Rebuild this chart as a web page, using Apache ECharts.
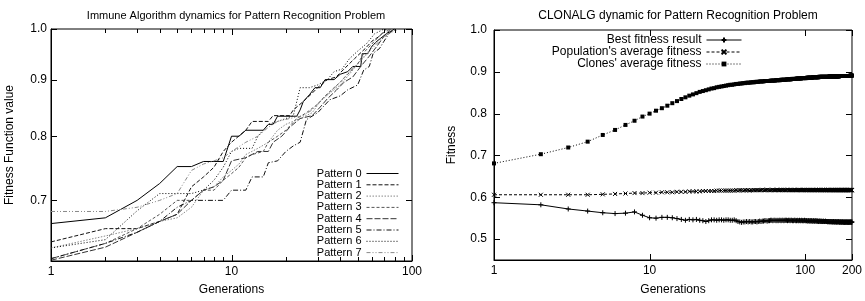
<!DOCTYPE html>
<html><head><meta charset="utf-8">
<script src="https://cdn.jsdelivr.net/npm/echarts@6/dist/echarts.min.js"></script>
<style>html,body{margin:0;padding:0;background:#fff}#c{width:865px;height:301px}</style>
</head><body><div id="c"></div>
<script>
// ---------- Left panel: Immune Algorithm, [generation, fitness] ----------
const patternNames = ['Pattern 0','Pattern 1','Pattern 2','Pattern 3','Pattern 4','Pattern 5','Pattern 6','Pattern 7'];
const pattern0 = [[1,0.667],[2,0.675],[3,0.70],[4,0.725],[5,0.751],[6,0.751],[7,0.759],[9,0.759],[10,0.80],[11,0.80],[12,0.81],[15,0.81],[16,0.82],[17,0.82],[18,0.834],[23,0.834],[24,0.845],[25,0.86],[27,0.872],[29,0.885],[31,0.885],[33,0.90],[37,0.90],[40,0.91],[44,0.915],[47,0.925],[52,0.925],[53,0.95],[57,0.95],[60,0.965],[64,0.975],[72,0.99],[80,1.0]];
const pattern1 = [[1,0.642],[2,0.66],[3,0.66],[4,0.67],[5,0.68],[6,0.72],[7,0.735],[8,0.75],[9,0.775],[10,0.79],[12,0.81],[13,0.825],[16,0.825],[17,0.835],[21,0.835],[22,0.845],[25,0.86],[28,0.875],[30,0.885],[34,0.90],[38,0.905],[42,0.92],[48,0.94],[55,0.96],[60,0.975],[66,0.985],[72,1.0]];
const pattern2 = [[1,0.634],[2,0.65],[3,0.66],[4,0.67],[5,0.675],[6,0.69],[7,0.715],[8,0.72],[9,0.735],[10,0.745],[11,0.755],[12,0.77],[14,0.78],[16,0.79],[18,0.81],[20,0.82],[24,0.83],[28,0.84],[31,0.86],[35,0.875],[40,0.89],[45,0.91],[50,0.93],[56,0.95],[62,0.97],[70,0.985],[78,1.0]];
const pattern3 = [[1,0.62],[2,0.64],[3,0.66],[4,0.68],[5,0.70],[6,0.70],[7,0.715],[8,0.715],[9,0.73],[10,0.74],[11,0.75],[12,0.765],[13,0.77],[15,0.775],[16,0.79],[18,0.80],[20,0.81],[23,0.83],[26,0.84],[30,0.855],[33,0.87],[37,0.885],[40,0.895],[44,0.91],[50,0.93],[55,0.955],[62,0.975],[68,0.99],[75,1.0]];
const pattern4 = [[1,0.618],[2,0.635],[3,0.655],[4,0.67],[5,0.68],[6,0.70],[7,0.715],[8,0.72],[9,0.73],[10,0.76],[12,0.765],[14,0.775],[16,0.775],[17,0.79],[19,0.80],[21,0.815],[24,0.83],[28,0.835],[31,0.85],[34,0.865],[38,0.88],[42,0.895],[47,0.905],[52,0.925],[58,0.945],[64,0.965],[70,0.985],[76,1.0]];
const pattern5 = [[1,0.62],[2,0.64],[3,0.655],[4,0.67],[5,0.69],[6,0.70],[7,0.70],[9,0.70],[10,0.715],[12,0.715],[13,0.735],[15,0.735],[16,0.757],[18,0.76],[20,0.775],[22,0.784],[24,0.79],[26,0.828],[30,0.84],[35,0.863],[40,0.87],[44,0.881],[50,0.89],[54,0.918],[58,0.925],[61,0.951],[66,0.96],[70,0.975],[75,0.992],[82,1.0]];
const pattern6 = [[1,0.634],[2,0.645],[3,0.685],[4,0.71],[5,0.71],[6,0.71],[7,0.715],[8,0.73],[9,0.75],[10,0.775],[11,0.78],[13,0.78],[14,0.80],[16,0.82],[18,0.825],[20,0.83],[22,0.835],[23,0.86],[24,0.885],[27,0.885],[30,0.89],[34,0.90],[37,0.915],[41,0.92],[45,0.94],[50,0.955],[56,0.97],[62,0.99],[70,1.0]];
const pattern7 = [[1,0.684],[2,0.684],[3,0.69],[4,0.70],[5,0.71],[6,0.745],[7,0.755],[8,0.76],[9,0.765],[10,0.775],[12,0.79],[14,0.80],[16,0.815],[18,0.825],[21,0.83],[25,0.835],[28,0.845],[32,0.865],[36,0.88],[40,0.895],[45,0.915],[50,0.93],[55,0.945],[60,0.96],[66,0.975],[74,0.99],[84,1.0]];
const leftXRange = [1, 100];
const leftYRange = [0.617, 1.0];
const leftXLabels = [1,10,100];
const leftXMinor = [2,3,4,5,6,7,8,9,20,30,40,50,60,70,80,90];
const leftYLabels = [0.7,0.8,0.9,1.0];

// ---------- Right panel: CLONALG, one value per generation 1..200 ----------
const rightNames = ['Best fitness result',"Population's average fitness","Clones' average fitness"];
const bestFitness = [
0.587,0.582,0.572,0.567,0.563,0.561,0.562,0.565,0.557,0.551,
0.550,0.552,0.552,0.551,0.549,0.547,0.545,0.547,0.546,0.547,
0.545,0.544,0.542,0.544,0.546,0.546,0.545,0.546,0.546,0.545,
0.546,0.546,0.545,0.545,0.546,0.544,0.542,0.541,0.540,0.541,
0.541,0.542,0.541,0.542,0.541,0.541,0.542,0.542,0.541,0.542,
0.543,0.542,0.543,0.543,0.544,0.544,0.543,0.544,0.544,0.545,
0.545,0.544,0.545,0.545,0.544,0.545,0.544,0.545,0.545,0.544,
0.545,0.545,0.544,0.545,0.545,0.545,0.544,0.545,0.545,0.544,
0.545,0.545,0.544,0.544,0.545,0.545,0.544,0.544,0.545,0.544,
0.544,0.545,0.544,0.544,0.545,0.544,0.544,0.544,0.545,0.544,
0.544,0.544,0.544,0.543,0.544,0.544,0.543,0.544,0.543,0.544,
0.543,0.543,0.544,0.543,0.543,0.543,0.544,0.543,0.543,0.543,
0.543,0.542,0.543,0.543,0.542,0.543,0.542,0.543,0.542,0.542,
0.543,0.542,0.542,0.542,0.543,0.542,0.542,0.542,0.542,0.541,
0.542,0.542,0.541,0.542,0.542,0.541,0.542,0.541,0.542,0.541,
0.541,0.542,0.541,0.541,0.541,0.542,0.541,0.541,0.541,0.541,
0.541,0.541,0.542,0.541,0.541,0.541,0.540,0.541,0.541,0.541,
0.541,0.540,0.541,0.541,0.541,0.540,0.541,0.541,0.540,0.541,
0.541,0.540,0.541,0.541,0.540,0.541,0.540,0.541,0.541,0.540,
0.541,0.540,0.541,0.540,0.541,0.541,0.540,0.541,0.540,0.541];
const populationAvg = [
0.606,0.606,0.606,0.606,0.607,0.608,0.609,0.610,0.610,0.611,
0.611,0.612,0.612,0.612,0.613,0.613,0.613,0.614,0.614,0.614,
0.614,0.615,0.615,0.615,0.615,0.615,0.616,0.616,0.616,0.616,
0.616,0.616,0.616,0.616,0.616,0.617,0.616,0.617,0.617,0.616,
0.617,0.617,0.617,0.616,0.617,0.617,0.617,0.617,0.617,0.617,
0.617,0.617,0.618,0.617,0.617,0.617,0.618,0.617,0.617,0.617,
0.617,0.618,0.617,0.617,0.617,0.618,0.617,0.617,0.617,0.618,
0.617,0.617,0.618,0.617,0.617,0.617,0.618,0.617,0.617,0.617,
0.618,0.617,0.617,0.617,0.618,0.617,0.617,0.617,0.617,0.618,
0.617,0.617,0.618,0.617,0.617,0.617,0.617,0.618,0.617,0.617,
0.617,0.618,0.617,0.617,0.617,0.618,0.617,0.617,0.617,0.617,
0.618,0.617,0.617,0.617,0.617,0.618,0.617,0.617,0.617,0.618,
0.617,0.617,0.617,0.618,0.617,0.617,0.617,0.617,0.618,0.617,
0.617,0.617,0.618,0.617,0.617,0.617,0.617,0.618,0.617,0.617,
0.617,0.618,0.617,0.617,0.617,0.617,0.618,0.617,0.617,0.617,
0.618,0.617,0.617,0.617,0.617,0.618,0.617,0.617,0.617,0.617,
0.618,0.617,0.617,0.617,0.618,0.617,0.617,0.617,0.617,0.618,
0.617,0.617,0.617,0.618,0.617,0.617,0.617,0.617,0.618,0.617,
0.617,0.617,0.618,0.617,0.617,0.617,0.617,0.618,0.617,0.617,
0.617,0.618,0.617,0.617,0.617,0.617,0.618,0.617,0.617,0.617];
const clonesAvg = [
0.681,0.703,0.719,0.733,0.749,0.761,0.773,0.783,0.793,0.800,
0.807,0.813,0.819,0.825,0.830,0.835,0.839,0.843,0.846,0.849,
0.852,0.854,0.856,0.858,0.860,0.861,0.863,0.864,0.865,0.866,
0.867,0.868,0.869,0.869,0.870,0.871,0.871,0.872,0.872,0.873,
0.873,0.874,0.874,0.874,0.875,0.875,0.875,0.876,0.876,0.876,
0.877,0.877,0.877,0.877,0.878,0.878,0.878,0.878,0.878,0.879,
0.879,0.879,0.879,0.879,0.880,0.880,0.880,0.880,0.880,0.881,
0.881,0.881,0.881,0.881,0.881,0.882,0.882,0.882,0.882,0.882,
0.882,0.883,0.883,0.883,0.883,0.883,0.883,0.884,0.884,0.884,
0.884,0.884,0.884,0.884,0.885,0.885,0.885,0.885,0.885,0.885,
0.885,0.885,0.886,0.886,0.886,0.886,0.886,0.886,0.886,0.886,
0.886,0.887,0.887,0.887,0.887,0.887,0.887,0.887,0.887,0.887,
0.887,0.887,0.888,0.888,0.888,0.888,0.888,0.888,0.888,0.888,
0.888,0.888,0.888,0.888,0.888,0.888,0.888,0.888,0.888,0.888,
0.888,0.888,0.889,0.889,0.889,0.889,0.889,0.889,0.889,0.889,
0.889,0.889,0.889,0.889,0.889,0.889,0.889,0.889,0.889,0.889,
0.889,0.889,0.889,0.889,0.889,0.890,0.890,0.890,0.890,0.890,
0.890,0.890,0.890,0.890,0.890,0.890,0.890,0.890,0.890,0.890,
0.890,0.890,0.890,0.890,0.890,0.890,0.890,0.890,0.890,0.890,
0.890,0.890,0.890,0.890,0.891,0.891,0.891,0.891,0.891,0.891];
const rightXRange = [1, 200];
const rightYRange = [0.45, 1.0];
const rightXLabels = [1,10,100,200];
const rightYLabels = [0.5,0.6,0.7,0.8,0.9,1.0];

// ---------- build ----------
const FONT = 'Liberation Sans';
const generations = bestFitness.map((_, i) => i + 1);
const pair = vals => vals.map((v, i) => [generations[i], v]);
const fmtInt = v => String(Math.round(v));
const fmt1 = v => (Math.round(v * 10) / 10).toFixed(1);

function xAxisDef(grid, range, labelVals, name, gap) {
  return { type: 'log', logBase: 10, gridIndex: grid, min: range[0], max: range[1], position: 'bottom',
    axisLine: { show: true, lineStyle: { color: '#000', width: 1 } },
    axisTick: { show: false }, splitLine: { show: false }, minorTick: { show: false },
    axisLabel: { show: true, customValues: labelVals, formatter: fmtInt, margin: 5,
      fontFamily: FONT, fontSize: 12, color: '#000' },
    name: name, nameLocation: 'middle', nameGap: gap,
    nameTextStyle: { fontFamily: FONT, fontSize: 12, color: '#000' } };
}
function yAxisDef(grid, type, range, labelVals, name, gap, margin) {
  const a = { type: type, gridIndex: grid, min: range[0], max: range[1], position: 'left',
    axisLine: { show: true, lineStyle: { color: '#000', width: 1 } },
    axisTick: { show: false }, splitLine: { show: false },
    axisLabel: { show: true, customValues: labelVals, formatter: fmt1, margin: margin,
      fontFamily: FONT, fontSize: 12, color: '#000' },
    name: name, nameLocation: 'middle', nameGap: gap, nameRotate: 90,
    nameTextStyle: { fontFamily: FONT, fontSize: 12, color: '#000' } };
  if (type === 'log') a.logBase = 10;
  return a;
}

// Tick marks on both sides of each frame, positioned through the axes' own scales.
function xTickSeries(name, xIdx, yIdx, vals, refY, len) {
  return { type: 'custom', name: name, xAxisIndex: xIdx, yAxisIndex: yIdx, silent: true, z: 5, clip: false,
    data: vals.map(v => [v, refY]),
    renderItem: function (params, api) {
      const cs = params.coordSys;
      const x = Math.round(api.coord([api.value(0), api.value(1)])[0]) + 0.5;
      const b = cs.y + cs.height, t = cs.y;
      const st = { stroke: '#000', lineWidth: 1 };
      return { type: 'group', children: [
        { type: 'line', shape: { x1: x, y1: b, x2: x, y2: b - len }, style: st },
        { type: 'line', shape: { x1: x, y1: t, x2: x, y2: t + len }, style: st } ] };
    } };
}
function yTickSeries(name, xIdx, yIdx, vals, refX, len) {
  return { type: 'custom', name: name, xAxisIndex: xIdx, yAxisIndex: yIdx, silent: true, z: 5, clip: false,
    data: vals.map(v => [refX, v]),
    renderItem: function (params, api) {
      const cs = params.coordSys;
      const y = Math.round(api.coord([api.value(0), api.value(1)])[1]) + 0.5;
      const l = cs.x, r = cs.x + cs.width;
      const st = { stroke: '#000', lineWidth: 1 };
      return { type: 'group', children: [
        { type: 'line', shape: { x1: l, y1: y, x2: l + len, y2: y }, style: st },
        { type: 'line', shape: { x1: r, y1: y, x2: r - len, y2: y }, style: st } ] };
    } };
}

const patternData = [pattern0, pattern1, pattern2, pattern3, pattern4, pattern5, pattern6, pattern7];
const patternStyles = [
  { color: '#000', type: 'solid' },
  { color: '#111', type: [4, 2] },
  { color: '#888', type: [1.5, 1.5] },
  { color: '#555', type: [3, 2] },
  { color: '#333', type: [6, 2] },
  { color: '#111', type: [5, 2, 1, 2] },
  { color: '#000', type: [1, 2] },
  { color: '#888', type: [4, 2, 1, 2, 1, 2] }
];
const series = patternData.map((d, i) => ({
  type: 'line', name: patternNames[i], xAxisIndex: 0, yAxisIndex: 0, data: d,
  symbol: 'none', animation: false, silent: true,
  lineStyle: { color: patternStyles[i].color, width: 1, type: patternStyles[i].type },
  itemStyle: { color: patternStyles[i].color }
}));
series.push({
  type: 'line', name: rightNames[0], xAxisIndex: 1, yAxisIndex: 1, data: pair(bestFitness),
  symbol: 'path://M0,5L10,5M5,0L5,10', symbolSize: 5, animation: false, silent: true,
  lineStyle: { color: '#000', width: 1, type: 'solid' },
  itemStyle: { color: '#000', borderColor: '#000', borderWidth: 1 }
});
series.push({
  type: 'line', name: rightNames[1], xAxisIndex: 1, yAxisIndex: 1, data: pair(populationAvg),
  symbol: 'path://M0,0L10,10M0,10L10,0', symbolSize: 4, animation: false, silent: true,
  lineStyle: { color: '#000', width: 1, type: [3, 2] },
  itemStyle: { color: '#000', borderColor: '#000', borderWidth: 1 }
});
series.push({
  type: 'line', name: rightNames[2], xAxisIndex: 1, yAxisIndex: 1, data: pair(clonesAvg),
  symbol: 'rect', symbolSize: 4, animation: false, silent: true,
  lineStyle: { color: '#000', width: 1, type: [1, 2] },
  itemStyle: { color: '#000' }
});
series.push(xTickSeries('ticksLX', 0, 0, leftXLabels, leftYLabels[0], 6));
series.push(xTickSeries('ticksLXm', 0, 0, leftXMinor, leftYLabels[0], 4));
series.push(yTickSeries('ticksLY', 0, 0, leftYLabels, leftXLabels[0], 6));
series.push(xTickSeries('ticksRX', 1, 1, rightXLabels, rightYLabels[0], 6));
series.push(yTickSeries('ticksRY', 1, 1, rightYLabels, rightXLabels[0], 6));

const chart = echarts.init(document.getElementById('c'), null, { renderer: 'canvas' });
chart.setOption({
  animation: false,
  backgroundColor: '#fff',
  title: [
    { text: 'Immune Algorithm dynamics for Pattern Recognition Problem', left: 231, textAlign: 'center', top: 5,
      textStyle: { fontFamily: FONT, fontSize: 11, fontWeight: 'normal', color: '#000' } },
    { text: 'CLONALG dynamic for Pattern Recognition Problem', left: 673, textAlign: 'center', top: 5,
      textStyle: { fontFamily: FONT, fontSize: 12, fontWeight: 'normal', color: '#000' } }
  ],
  grid: [
    { left: 51, top: 29, width: 361, height: 233, show: true, borderColor: '#000', borderWidth: 1, backgroundColor: 'transparent' },
    { left: 494, top: 30, width: 358, height: 230, show: true, borderColor: '#000', borderWidth: 1, backgroundColor: 'transparent' }
  ],
  legend: [
    { data: patternNames, orient: 'vertical', align: 'right', right: 466, top: 168, padding: 0,
      itemWidth: 32, itemHeight: 10, itemGap: 0.3, selectedMode: false,
      itemStyle: { color: 'rgba(0,0,0,0)', borderColor: 'rgba(0,0,0,0)', borderWidth: 0, opacity: 0 },
      lineStyle: { width: 1 },
      textStyle: { fontFamily: FONT, fontSize: 11, color: '#000', lineHeight: 11 } },
    { data: rightNames, orient: 'vertical', align: 'right', right: 123, top: 34, padding: 0,
      itemWidth: 35, itemHeight: 6, itemGap: 0, selectedMode: false,
      lineStyle: { width: 1 },
      textStyle: { fontFamily: FONT, fontSize: 12, color: '#000', lineHeight: 11.7 } }
  ],
  xAxis: [
    xAxisDef(0, leftXRange, leftXLabels, 'Generations', 23),
    xAxisDef(1, rightXRange, rightXLabels, 'Generations', 24)
  ],
  yAxis: [
    yAxisDef(0, 'log', leftYRange, leftYLabels, 'Fitness Function value', 35, 4),
    yAxisDef(1, 'value', rightYRange, rightYLabels, 'Fitness', 36, 7)
  ],
  series: series
});
</script></body></html>
